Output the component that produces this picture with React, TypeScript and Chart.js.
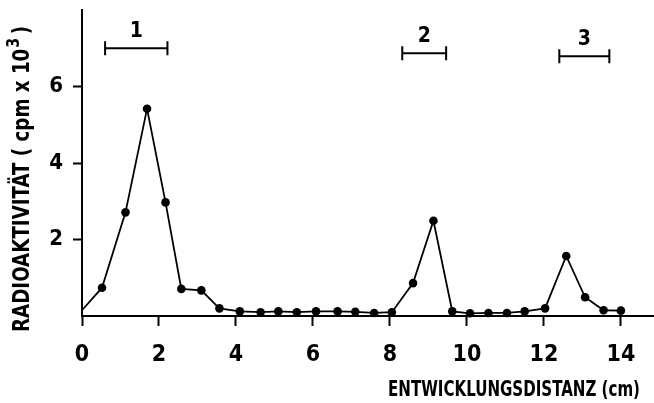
import React, { useEffect, useRef } from 'react';
import { Chart, registerables } from 'chart.js';

Chart.register(...registerables);

// Radioactivity along the developed chromatogram (fraction positions in cm)
const distanceCm = [0, 0.52, 1.13, 1.69, 2.17, 2.58, 3.1, 3.57, 4.1, 4.64, 5.1, 5.58, 6.08, 6.64, 7.1, 7.59, 8.05, 8.6, 9.13, 9.62, 10.08, 10.56, 11.04, 11.5, 12.03, 12.58, 13.07, 13.55, 14.0];
const activity = [0.15, 0.74, 2.71, 5.42, 2.97, 0.71, 0.67, 0.2, 0.12, 0.1, 0.12, 0.1, 0.12, 0.12, 0.11, 0.08, 0.1, 0.86, 2.49, 0.12, 0.07, 0.08, 0.08, 0.12, 0.2, 1.57, 0.49, 0.15, 0.14];

const xTickValues = [0, 2, 4, 6, 8, 10, 12, 14];
const yTickValues = [2, 4, 6];

// Marked zones above the peaks
const zoneLabels = ['1', '2', '3'];
const zoneStart = [0.6, 8.32, 12.4];
const zoneEnd = [2.22, 9.46, 13.7];
const zoneLevel = [7.0, 6.87, 6.79];

const xTitle = 'ENTWICKLUNGSDISTANZ (cm)';
const yTitleMain = 'RADIOAKTIVITÄT ( cpm x 10';
const yTitleExp = '3';
const yTitleEnd = ')';

const FONT = '"DejaVu Sans Condensed", "DejaVu Sans", sans-serif';
const INK = '#000';

const zonePlugin = {
  id: 'zones',
  afterDatasetsDraw(chart: any) {
    const { ctx, scales } = chart;
    const xs = scales.x;
    const ys = scales.y;
    ctx.save();
    ctx.strokeStyle = INK;
    ctx.fillStyle = INK;
    ctx.lineWidth = 2;
    ctx.font = `bold 21px ${FONT}`;
    ctx.textAlign = 'center';
    ctx.textBaseline = 'middle';
    zoneLabels.forEach((label, i) => {
      const x1 = xs.getPixelForValue(zoneStart[i]);
      const x2 = xs.getPixelForValue(zoneEnd[i]);
      const y = ys.getPixelForValue(zoneLevel[i]);
      ctx.beginPath();
      ctx.moveTo(x1, y);
      ctx.lineTo(x2, y);
      ctx.moveTo(x1, y - 7);
      ctx.lineTo(x1, y + 7);
      ctx.moveTo(x2, y - 7);
      ctx.lineTo(x2, y + 7);
      ctx.stroke();
      ctx.fillText(label, (x1 + x2) / 2, y - 17);
    });
    ctx.restore();
  },
};

// Axis titles drawn in a narrow lettering: text is squeezed horizontally to a set run length
const titlePlugin = {
  id: 'axisTitles',
  afterDraw(chart: any) {
    const { ctx, chartArea } = chart;
    ctx.save();
    ctx.fillStyle = INK;
    ctx.textBaseline = 'alphabetic';
    ctx.textAlign = 'left';

    // x-axis title under the axis, ending near the right edge
    ctx.save();
    ctx.font = `bold 22px ${FONT}`;
    const xRun = 252;
    const xw = ctx.measureText(xTitle).width;
    ctx.translate(chartArea.right - 14 - xRun, chartArea.bottom + 80);
    ctx.scale(xRun / xw, 1);
    ctx.fillText(xTitle, 0, 0);
    ctx.restore();

    // y-axis title, rotated, with superscript exponent
    ctx.save();
    const mainFont = `bold 23px ${FONT}`;
    const expFont = `bold 18px ${FONT}`;
    ctx.font = mainFont;
    const wMain = ctx.measureText(yTitleMain).width;
    const wEnd = ctx.measureText(yTitleEnd).width;
    ctx.font = expFont;
    const wExp = ctx.measureText(yTitleExp).width;
    const total = wMain + 1 + wExp + 4 + wEnd;
    const yRun = 306;
    ctx.translate(29, chartArea.bottom + 16);
    ctx.rotate(-Math.PI / 2);
    ctx.scale(yRun / total, 1);
    ctx.font = mainFont;
    ctx.fillText(yTitleMain, 0, 0);
    ctx.font = expFont;
    ctx.fillText(yTitleExp, wMain + 1, -10);
    ctx.font = mainFont;
    ctx.fillText(yTitleEnd, wMain + 1 + wExp + 4, 0);
    ctx.restore();

    ctx.restore();
  },
};

export default function App() {
  const canvasRef = useRef<HTMLCanvasElement | null>(null);

  useEffect(() => {
    if (!canvasRef.current) return;
    const points = distanceCm.map((x, i) => ({ x, y: activity[i] }));
    const chart = new Chart(canvasRef.current, {
      type: 'line',
      data: {
        datasets: [
          {
            data: points,
            borderColor: INK,
            backgroundColor: INK,
            borderWidth: 1.8,
            pointRadius: points.map((_, i) => (i === 0 ? 0 : 4.3)),
            pointBorderWidth: 0,
            tension: 0,
            clip: false,
          },
        ],
      },
      options: {
        responsive: false,
        animation: false,
        devicePixelRatio: 1,
        layout: { autoPadding: false, padding: { top: 10, right: 0, left: 0, bottom: 0 } },
        plugins: {
          legend: { display: false },
          tooltip: { enabled: false },
        },
        scales: {
          x: {
            type: 'linear',
            min: 0,
            max: 14.86,
            afterBuildTicks: (scale: any) => {
              scale.ticks = xTickValues.map((v) => ({ value: v }));
            },
            afterFit: (scale: any) => {
              scale.height = 87;
              scale.paddingLeft = 0;
              scale.paddingRight = 0;
            },
            grid: {
              drawOnChartArea: false,
              drawTicks: true,
              tickLength: 10,
              tickColor: INK,
              tickWidth: 2,
            },
            border: { display: true, color: INK, width: 2 },
            ticks: {
              color: INK,
              padding: 15,
              maxRotation: 0,
              font: { family: FONT, size: 23, weight: 'bold' },
            },
          },
          y: {
            type: 'linear',
            min: 0,
            max: 8,
            afterBuildTicks: (scale: any) => {
              scale.ticks = yTickValues.map((v) => ({ value: v }));
            },
            afterFit: (scale: any) => {
              scale.width = 82;
              scale.paddingTop = 0;
              scale.paddingBottom = 0;
            },
            grid: {
              drawOnChartArea: false,
              drawTicks: true,
              tickLength: 9,
              tickColor: INK,
              tickWidth: 2,
            },
            border: { display: true, color: INK, width: 2 },
            ticks: {
              color: INK,
              padding: 10,
              font: { family: FONT, size: 22, weight: 'bold' },
            },
          },
        },
      },
      plugins: [zonePlugin, titlePlugin],
    } as any);
    return () => chart.destroy();
  }, []);

  return (
    <div style={{ position: 'fixed', left: 0, top: 0, width: 654, height: 403, background: '#fff' }}>
      <canvas ref={canvasRef} width={654} height={403} />
    </div>
  );
}
